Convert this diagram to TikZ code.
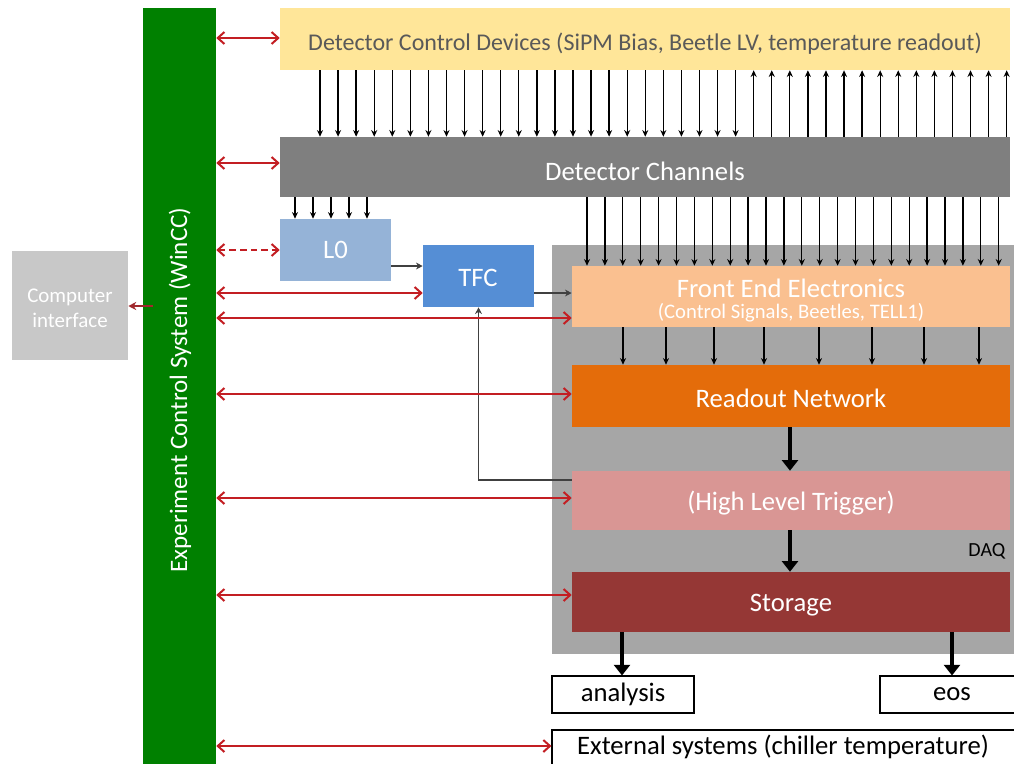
\documentclass[tikz,border=0pt]{standalone}
\usepackage{fontspec}
\setmainfont{Carlito}
\usetikzlibrary{arrows.meta,fit}
\definecolor{ecsgreen}{RGB}{0,128,0}
\definecolor{dcdyellow}{RGB}{255,230,153}
\definecolor{chgray}{RGB}{127,127,127}
\definecolor{lzero}{RGB}{149,179,215}
\definecolor{tfcblue}{RGB}{85,142,213}
\definecolor{daqgray}{RGB}{166,166,166}
\definecolor{feorange}{RGB}{250,192,144}
\definecolor{roorange}{RGB}{228,108,10}
\definecolor{hltpink}{RGB}{217,150,148}
\definecolor{stred}{RGB}{149,55,53}
\definecolor{ecsred}{RGB}{195,30,35}
\definecolor{cired}{RGB}{160,40,45}
\definecolor{cigray}{RGB}{200,200,200}
\definecolor{dcdtext}{RGB}{89,89,89}
\definecolor{ctrlgray}{RGB}{64,64,64}
\begin{document}
\begin{tikzpicture}[x=0.75pt,y=-0.75pt,
  blk/.style={inner sep=0pt, draw=none, text=white, align=center},
  wbox/.style={inner sep=0pt, draw=black, line width=0.8pt, fill=white, text=black},
  bigfont/.style={font=\fontsize{20}{24}\selectfont},
  ecsarrow/.style={draw=ecsred, line width=1.5pt, {Straight Barb[length=5pt,width=9pt]}-{Straight Barb[length=5pt,width=9pt]}},
  sig/.style={draw=black, line width=1pt, -{Stealth[length=5pt,width=4.5pt]}},
  ctrl/.style={draw=ctrlgray, line width=1.1pt, -{Stealth[length=5pt,width=5pt]}},
  bigarrow/.style={draw=black, line width=2.8pt, -{Triangle[length=8pt,width=12pt]}},
]
\fill[white] (0,0) rectangle (1014,764);
\path[use as bounding box] (0,0) rectangle (1014,764);

% DAQ background
\node[blk, fill=daqgray, fit={(552,245)(1014,654)}] (daq) {};
\node[text=black, anchor=east, font=\fontsize{15}{18}\selectfont] (daqlabel) at (1010,551) {DAQ};

% ECS bar
\node[blk, fill=ecsgreen, fit={(143,8)(216,764)}] (ecs) {};
\node[rotate=90, text=white, font=\fontsize{18.8}{22}\selectfont] (ecslabel) at (180,390) {Experiment Control System (WinCC)};

% Computer interface
\node[blk, fill=cigray, fit={(12,251)(128,360)}] (ci) {};
\node[text=white, align=center, font=\fontsize{15.7}{19}\selectfont] (cilabel) at (70,308) {Computer\\interface};

% Boxes
\node[blk, fill=dcdyellow, fit={(280,8)(1010,70)}] (dcd) {};
\node[text=dcdtext, font=\fontsize{18}{21}\selectfont] (dcdlabel) at (645,44) {Detector Control Devices (SiPM Bias, Beetle LV, temperature readout)};

\node[blk, fill=chgray, fit={(280,137)(1010,197)}] (dch) {};
\node[text=white, bigfont] (dchlabel) at (645,171) {Detector Channels};

\node[blk, fill=lzero, fit={(280,219)(391,281)}] (l0) {};
\node[text=white, bigfont] (l0label) at (l0.center) {L0};

\node[blk, fill=tfcblue, fit={(423,245)(534,307)}] (tfc) {};
\node[text=white, bigfont] (tfclabel) at (478,278) {TFC};

\node[blk, fill=feorange, fit={(572,266)(1010,327)}] (fe) {};
\node[text=white, bigfont] (felabel) at (791,288) {Front End Electronics};
\node[text=white, font=\fontsize{15.5}{18}\selectfont] (fesub) at (791,313) {(Control Signals, Beetles, TELL1)};

\node[blk, fill=roorange, fit={(572,365)(1010,427)}] (ro) {};
\node[text=white, bigfont] (rolabel) at (791,398) {Readout Network};

\node[blk, fill=hltpink, fit={(572,471)(1010,530)}] (hlt) {};
\node[text=white, bigfont] (hltlabel) at (791,503) {(High Level Trigger)};

\node[blk, fill=stred, fit={(572,572)(1010,632)}] (st) {};
\node[text=white, bigfont] (stlabel) at (791,605) {Storage};

\node[wbox, fit={(552,676)(694,713)}] (an) {};
\node[bigfont] (anlabel) at (an.center) {analysis};
\node[wbox, fit={(880,676)(1016,713)}] (eos) {};
\node[bigfont] (eoslabel) at (952,694.5) {eos};
\node[wbox, fit={(552,730)(1016,766)}] (ext) {};
\node[bigfont] (extlabel) at (783,747) {External systems (chiller temperature)};

% signal arrows DCD <-> channels
\foreach \i in {0,...,23} {
  \draw[sig] (dcd.south -| {320+18.07*\i},0) -- (dch.north -| {320+18.07*\i},0);
}
\foreach \i in {24,...,38} {
  \draw[sig] (dch.north -| {320+18.07*\i},0) -- (dcd.south -| {320+18.07*\i},0);
}
% channels -> L0
\foreach \i in {0,...,4} {
  \draw[sig] (dch.south -| {295+18*\i},0) -- (l0.north -| {295+18*\i},0);
}
% channels -> FE
\foreach \i in {0,...,23} {
  \draw[sig] (dch.south -| {587+17.9*\i},0) -- (fe.north -| {587+17.9*\i},0);
}
% FE -> readout
\foreach \x in {623,666,714,764,819,872,924,979} {
  \draw[sig] (fe.south -| \x,0) -- (ro.north -| \x,0);
}

% thick arrows
\draw[bigarrow] (ro.south -| 790,0) -- (hlt.north -| 790,0);
\draw[bigarrow] (hlt.south -| 790,0) -- (st.north -| 790,0);
\draw[bigarrow] (st.south -| 622,0) -- (an.north -| 622,0);
\draw[bigarrow] (st.south -| 952,0) -- (eos.north -| 952,0);

% control arrows
\draw[ctrl] (l0.east |- 0,266) -- (tfc.west |- 0,266);
\draw[ctrl] (tfc.east |- 0,293) -- (fe.west |- 0,293);
\draw[ctrl] (hlt.west |- 0,480) -| (tfc.south);

% ECS arrows
\draw[ecsarrow] (ecs.east |- 0,38) -- (dcd.west |- 0,38);
\draw[ecsarrow] (ecs.east |- 0,163) -- (dch.west |- 0,163);
\draw[ecsarrow, dash pattern=on 5pt off 3pt] (ecs.east |- 0,250) -- (l0.west |- 0,250);
\draw[ecsarrow] (ecs.east |- 0,293) -- (tfc.west |- 0,293);
\draw[ecsarrow] (ecs.east |- 0,318) -- (fe.west |- 0,318);
\draw[ecsarrow] (ecs.east |- 0,394) -- (ro.west |- 0,394);
\draw[ecsarrow] (ecs.east |- 0,498) -- (hlt.west |- 0,498);
\draw[ecsarrow] (ecs.east |- 0,595) -- (st.west |- 0,595);
\draw[ecsarrow] (ecs.east |- 0,746) -- (ext.west |- 0,746);
\draw[draw=cired, line width=1.3pt, -{Stealth[length=6pt,width=6pt]}] (153,306) -- (ci.east |- 0,306);
\end{tikzpicture}
\end{document}
